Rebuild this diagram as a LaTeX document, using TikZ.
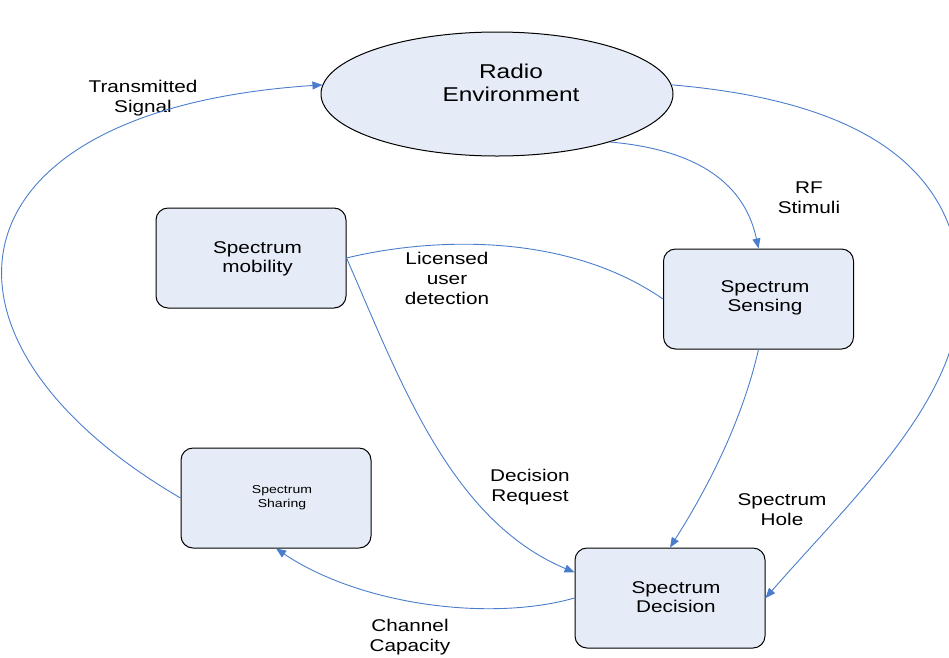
\documentclass[tikz,border=0pt]{standalone}
\usepackage{fontspec}
\setmainfont{Liberation Sans}
\newfontfamily\widesans[FakeStretch=1.22]{Liberation Sans}
\usetikzlibrary{shapes.geometric,arrows.meta}
\definecolor{boxfill}{RGB}{230,236,247}
\definecolor{flow}{RGB}{74,126,205}

\begin{document}
\begin{tikzpicture}[x=1pt,y=-1pt,
  unitbox/.style={draw=black, line width=1pt, fill=boxfill, rounded corners=12pt,
    minimum width=190pt, minimum height=100pt, inner sep=0pt},
  boxtext/.style={align=center, font=\widesans\fontsize{17}{19}\selectfont},
  lbl/.style={align=center, font=\widesans\fontsize{17}{20}\selectfont},
  flowline/.style={draw=flow, line width=0.9pt},
  flowarrow/.style={flowline, -{Triangle[length=10pt,width=8pt]}}]

\clip (0,0) rectangle (949,657);

% environment and the functional blocks
\node[ellipse, draw=black, fill=boxfill, line width=1pt,
      minimum width=352pt, minimum height=124pt, inner sep=0pt] (env) at (497,94) {};
\node[align=center, font=\widesans\fontsize{20}{23}\selectfont] (envtext) at (511,83) {Radio\\Environment};
\node[unitbox] (mob) at (251,258) {};
\node[unitbox] (sens) at (758.5,299) {};
\node[unitbox] (shar) at (276,498) {};
\node[unitbox] (dec) at (670,598) {};
\node[boxtext] (mobtext) at (257.5,258.5) {Spectrum\\mobility};
\node[boxtext] (senstext) at (765,298) {Spectrum\\Sensing};
\node[boxtext, font=\widesans\fontsize{11.5}{14}\selectfont] (shartext) at (282,498) {Spectrum\\Sharing};
\node[boxtext] (dectext) at (676,597) {Spectrum\\Decision};

% connector labels
\node[lbl] (tx) at (143,98) {Transmitted\\Signal};
\node[lbl] (rf) at (809,198) {RF\\Stimuli};
\node[lbl] (lud) at (447,278) {Licensed\\user\\detection};
\node[lbl] (dr) at (530,487) {Decision\\Request};
\node[lbl] (hole) at (782,510) {Spectrum\\Hole};
\node[lbl] (cc) at (410,637) {Channel\\Capacity};

% cognitive cycle
\draw[flowarrow] (shar.west) .. controls (-90,340) and (-60,110) .. (env.177);
\draw[flowarrow] (env.-23) .. controls (700,150) and (745,185) .. (sens.north);
\draw[flowarrow] (env.3) .. controls (850,100) and (950,160) .. (960,275)
                 .. controls (970,390) and (860,490) .. (dec.east);
\draw[flowarrow] (sens.south) .. controls (740,430) and (700,500) .. (dec.north);
\draw[flowline]  (mob.east) .. controls (420,240) and (560,228) .. (sens.west);
\draw[flowarrow] (mob.east) .. controls (400,380) and (450,520) .. (dec.165);
\draw[flowarrow] (dec.west) .. controls (490,622) and (360,605) .. (shar.south);
\end{tikzpicture}
\end{document}
